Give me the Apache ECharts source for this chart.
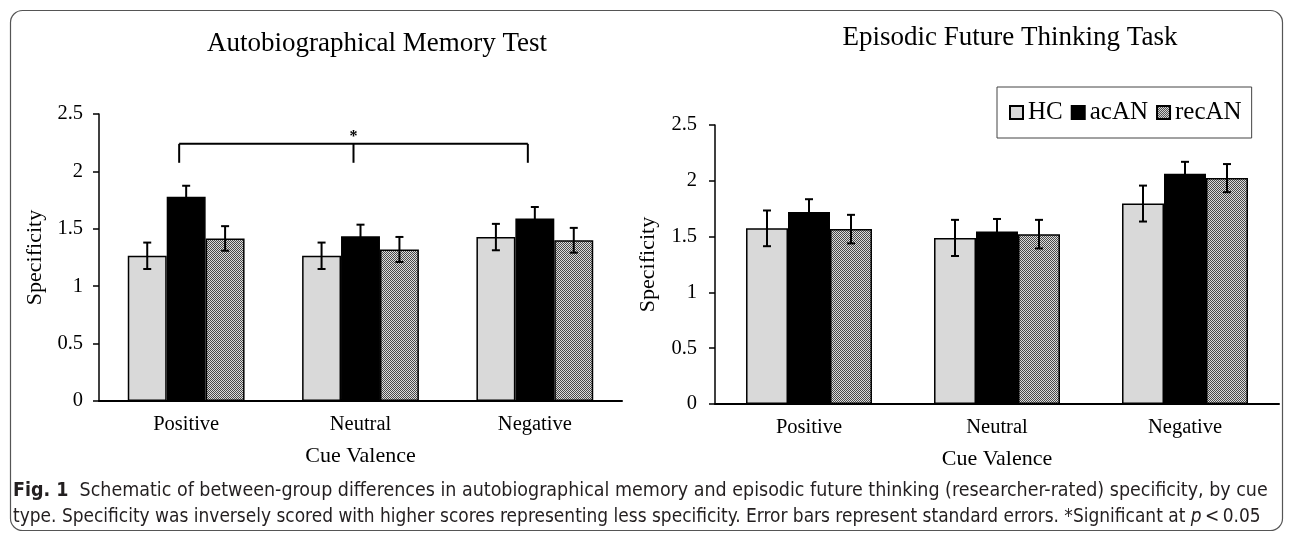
<!DOCTYPE html>
<html>
<head>
<meta charset="utf-8">
<script src="https://cdn.jsdelivr.net/npm/echarts@6/dist/echarts.min.js"></script>
<style>
html,body{margin:0;padding:0;background:#fff;}
#main{width:1290px;height:534px;}
</style>
</head>
<body>
<div id="main"></div>
<script>
// categories and groups
var categories = ['Positive', 'Neutral', 'Negative'];
var groups = ['HC', 'acAN', 'recAN'];

// Autobiographical Memory Test (means, standard errors)
var amtHC = [1.265, 1.265, 1.428];
var amtHCse = [0.115, 0.115, 0.115];
var amtAcAN = [1.78, 1.436, 1.59];
var amtAcANse = [0.095, 0.10, 0.10];
var amtRecAN = [1.416, 1.32, 1.40];
var amtRecANse = [0.107, 0.109, 0.108];

// Episodic Future Thinking Task (means, standard errors)
var eftHC = [1.574, 1.488, 1.796];
var eftHCse = [0.16, 0.162, 0.161];
var eftAcAN = [1.72, 1.546, 2.063];
var eftAcANse = [0.115, 0.112, 0.107];
var eftRecAN = [1.567, 1.522, 2.024];
var eftRecANse = [0.128, 0.128, 0.126];

// significance bracket (AMT, Positive vs Negative)
var sigFrom = 0;
var sigTo = 2;
var sigTop = 2.24;
var sigFoot = 2.075;
var sigMark = '*';

// y ticks
var yMin = 0;
var yMax = 2.5;
var yStep = 0.5;

var titleLeft = 'Autobiographical Memory Test';
var titleRight = 'Episodic Future Thinking Task';
var captionHead = 'Fig. 1';
var captionLine1 = 'Schematic of between-group differences in autobiographical memory and episodic future thinking (researcher-rated) specificity, by cue';
var captionLine2 = 'type. Specificity was inversely scored with higher scores representing less specificity. Error bars represent standard errors. *Significant at ';
var captionTail = 'p\u2009<\u20090.05';

var SERIF = '"Liberation Serif", "Times New Roman", serif';
var SANS = '"Liberation Sans Narrow", "DejaVu Sans Condensed", "Noto Sans", sans-serif';
var GAP = 0.33;

// checker pattern for recAN
function makePattern(){
	var c = document.createElement('canvas');
	c.width = 2; c.height = 2;
	var ctx = c.getContext('2d');
	ctx.fillStyle = '#dcdcdc';
	ctx.fillRect(0, 0, 2, 2);
	ctx.fillStyle = '#4a4a4a';
	ctx.fillRect(0, 0, 1, 1);
	ctx.fillRect(1, 1, 1, 1);
	return {image: c, repeat: 'repeat'};
}
var recPattern = makePattern();
var groupColors = ['#d9d9d9', '#000000', recPattern];

//量文字宽度（100px字号）
function textW(text, family, weight){
	var c = document.createElement('canvas').getContext('2d');
	c.font = (weight || 'normal') + ' 100px ' + family;
	return c.measureText(text).width;
}
//每行按原图宽度求字号
var w1 = textW(captionHead, SANS, 'bold') + textW('  ' + captionLine1, SANS);
var w2 = textW(captionLine2 + captionTail, SANS);
var capSize1 = 100 * 1256 / w1;
var capSize2 = 100 * 1248 / w2;

function errData(means, ses, g){
	var out = [];
	for (var i = 0; i < means.length; i++) {
		out.push([i, means[i] - ses[i], means[i] + ses[i], g]);
	}
	return out;
}

function renderErr(params, api){
	var i = api.value(0), lo = api.value(1), hi = api.value(2), g = api.value(3);
	var catW = api.size([1, 0])[0];
	var bw = catW * (1 - GAP) / 3;
	var x = api.coord([i, 0])[0] + (g - 1) * bw;
	var yl = api.coord([i, lo])[1];
	var yh = api.coord([i, hi])[1];
	var st = {stroke: '#000', lineWidth: 2};
	return {
		type: 'group',
		children: [
			{type: 'line', shape: {x1: x, y1: yl, x2: x, y2: yh}, style: st},
			{type: 'line', shape: {x1: x - 4, y1: yh, x2: x + 4, y2: yh}, style: st},
			{type: 'line', shape: {x1: x - 4, y1: yl, x2: x + 4, y2: yl}, style: st}
		]
	};
}

function renderSig(params, api){
	var a = api.value(0), b = api.value(1), top = api.value(2), foot = api.value(3);
	var off = -7;
	var xa = api.coord([a, top])[0] + off;
	var xb = api.coord([b, top])[0] + off;
	var xm = (xa + xb) / 2;
	var yt = api.coord([a, top])[1];
	var yf = api.coord([a, foot])[1];
	var st = {stroke: '#000', lineWidth: 2};
	return {
		type: 'group',
		children: [
			{type: 'line', shape: {x1: xa, y1: yt, x2: xb, y2: yt}, style: st},
			{type: 'line', shape: {x1: xa, y1: yt, x2: xa, y2: yf}, style: st},
			{type: 'line', shape: {x1: xm, y1: yt, x2: xm, y2: yf}, style: st},
			{type: 'line', shape: {x1: xb, y1: yt, x2: xb, y2: yf}, style: st},
			{type: 'text', style: {x: xm, y: yt - 7, text: sigMark, fill: '#000',
				font: 'bold 16px ' + SERIF, textAlign: 'center', textVerticalAlign: 'middle'}}
		]
	};
}

function xAxisCfg(idx){
	return {
		type: 'category', gridIndex: idx, data: categories,
		name: 'Cue Valence', nameLocation: 'middle', nameGap: 44,
		nameTextStyle: {fontFamily: SERIF, fontSize: 22, color: '#000'},
		axisLine: {lineStyle: {color: '#000', width: 2}},
		axisTick: {show: false},
		axisLabel: {fontFamily: SERIF, fontSize: 20.5, color: '#000', margin: 13}
	};
}
function yAxisCfg(idx, gap, margin){
	return {
		type: 'value', gridIndex: idx, min: yMin, max: yMax, interval: yStep,
		name: 'Specificity', nameLocation: 'middle', nameGap: gap,
		nameTextStyle: {fontFamily: SERIF, fontSize: 22, color: '#000'},
		axisLine: {show: true, lineStyle: {color: '#000', width: 1.5}},
		axisTick: {show: true, length: 6, lineStyle: {color: '#000', width: 1.5}},
		splitLine: {show: false},
		axisLabel: {fontFamily: SERIF, fontSize: 20.5, color: '#000', margin: margin}
	};
}

function barSeries(name, data, axis, g){
	return {
		name: name, type: 'bar', xAxisIndex: axis, yAxisIndex: axis, data: data,
		barGap: '0%', barCategoryGap: (GAP * 100) + '%',
		itemStyle: {color: groupColors[g], borderColor: '#000', borderWidth: 1.5},
		emphasis: {disabled: true}
	};
}
function errSeries(means, ses, axis, g){
	return {
		type: 'custom', xAxisIndex: axis, yAxisIndex: axis, z: 5,
		renderItem: renderErr, data: errData(means, ses, g),
		encode: {x: 0, y: [1, 2]}, silent: true
	};
}

var chart = echarts.init(document.getElementById('main'), null, {renderer: 'canvas'});

var option = {
	backgroundColor: '#fff',
	animation: false,
	grid: [
		{left: 99, top: 114, width: 523, height: 287},
		{left: 715, top: 125, width: 564, height: 279}
	],
	legend: {
		data: groups, left: 997, top: 87, orient: 'horizontal',
		itemWidth: 13, itemHeight: 13, itemGap: 8, icon: 'rect',
		padding: [13, 10, 13, 12],
		borderColor: '#444', borderWidth: 1,
		textStyle: {fontFamily: SERIF, fontSize: 25, color: '#000'},
		selectedMode: false
	},
	xAxis: [xAxisCfg(0), xAxisCfg(1)],
	yAxis: [yAxisCfg(0, 53, 16), yAxisCfg(1, 56, 18)],
	series: [
		barSeries('HC', amtHC, 0, 0),
		barSeries('acAN', amtAcAN, 0, 1),
		barSeries('recAN', amtRecAN, 0, 2),
		errSeries(amtHC, amtHCse, 0, 0),
		errSeries(amtAcAN, amtAcANse, 0, 1),
		errSeries(amtRecAN, amtRecANse, 0, 2),
		{
			type: 'custom', xAxisIndex: 0, yAxisIndex: 0, z: 5, silent: true,
			renderItem: renderSig, data: [[sigFrom, sigTo, sigTop, sigFoot]],
			encode: {x: [0, 1], y: [2, 3]}
		},
		barSeries('HC', eftHC, 1, 0),
		barSeries('acAN', eftAcAN, 1, 1),
		barSeries('recAN', eftRecAN, 1, 2),
		errSeries(eftHC, eftHCse, 1, 0),
		errSeries(eftAcAN, eftAcANse, 1, 1),
		errSeries(eftRecAN, eftRecANse, 1, 2)
	],
	graphic: [
		{type: 'rect', z: -1, shape: {x: 10.5, y: 10.5, width: 1272, height: 520, r: 12},
			style: {fill: 'none', stroke: '#555', lineWidth: 1.2}},
		{type: 'text', style: {x: 377, y: 44, text: titleLeft, font: '27px ' + SERIF,
			fill: '#000', textAlign: 'center', textVerticalAlign: 'middle'}},
		{type: 'text', style: {x: 1010, y: 38, text: titleRight, font: '27px ' + SERIF,
			fill: '#000', textAlign: 'center', textVerticalAlign: 'middle'}},
		{type: 'text', style: {x: 13, y: 491, textVerticalAlign: 'middle',
			text: '{b|' + captionHead + '}  ' + captionLine1,
			font: capSize1 + 'px ' + SANS, fill: '#231f20',
			rich: {b: {fontWeight: 'bold', fontFamily: SANS, fontSize: capSize1, fill: '#231f20'}}}},
		{type: 'text', style: {x: 13, y: 517, textVerticalAlign: 'middle',
			text: captionLine2 + '{i|p}' + captionTail.slice(1),
			font: capSize2 + 'px ' + SANS, fill: '#231f20',
			rich: {i: {fontStyle: 'italic', fontFamily: SANS, fontSize: capSize2, fill: '#231f20'}}}}
	]
};
chart.setOption(option);
</script>
</body>
</html>
